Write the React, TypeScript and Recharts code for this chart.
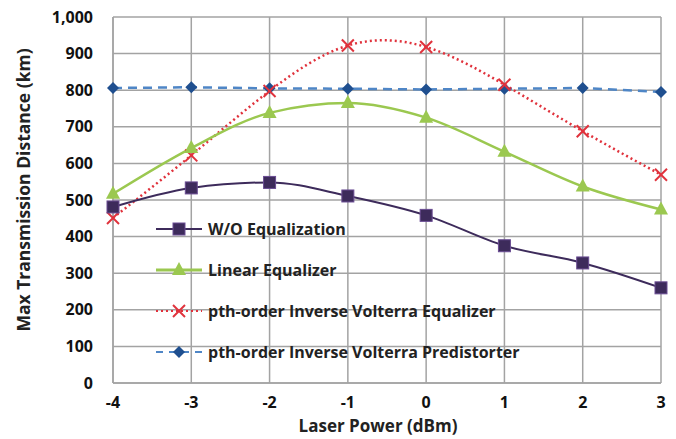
import { LineChart, Line, XAxis, YAxis, CartesianGrid, Legend } from "recharts";

const powers = [-4, -3, -2, -1, 0, 1, 2, 3];
const woEqualization = [481, 533, 548, 511, 458, 375, 328, 260];
const linearEqualizer = [517, 642, 738, 765, 725, 632, 537, 474];
const volterraEqualizer = [451, 622, 798, 922, 918, 815, 688, 569];
const volterraPredistorter = [806, 808, 805, 804, 802, 804, 806, 795];
const yTicks = [0, 100, 200, 300, 400, 500, 600, 700, 800, 900, 1000];

const seriesNames = [
  "W/O Equalization",
  "Linear Equalizer",
  "pth-order Inverse Volterra Equalizer",
  "pth-order Inverse Volterra Predistorter",
];

const data = powers.map((p, i) => ({
  power: p,
  wo: woEqualization[i],
  linear: linearEqualizer[i],
  volterra: volterraEqualizer[i],
  predistorter: volterraPredistorter[i],
}));

const FONT = "'Open Sans', sans-serif";
const PURPLE = "#3d2b5b";
const GREEN = "#9bc850";
const RED = "#e0323c";
const BLUE_LINE = "#4f86c6";
const BLUE_DOT = "#1f4f8f";

const SquareDot = (props: any) => {
  const { cx, cy } = props;
  if (cx == null || cy == null) return null;
  return <rect x={cx - 6} y={cy - 6} width={12} height={12} fill={PURPLE} stroke="#6a4c93" strokeWidth={1} />;
};

const TriangleDot = (props: any) => {
  const { cx, cy } = props;
  if (cx == null || cy == null) return null;
  return <polygon points={`${cx},${cy - 8} ${cx + 7},${cy + 5} ${cx - 7},${cy + 5}`} fill={GREEN} />;
};

const CrossDot = (props: any) => {
  const { cx, cy } = props;
  if (cx == null || cy == null) return null;
  return (
    <g stroke={RED} strokeWidth={2}>
      <line x1={cx - 6} y1={cy - 6} x2={cx + 6} y2={cy + 6} />
      <line x1={cx - 6} y1={cy + 6} x2={cx + 6} y2={cy - 6} />
    </g>
  );
};

const DiamondDot = (props: any) => {
  const { cx, cy } = props;
  if (cx == null || cy == null) return null;
  return <polygon points={`${cx},${cy - 6} ${cx + 6},${cy} ${cx},${cy + 6} ${cx - 6},${cy}`} fill={BLUE_DOT} />;
};

const legendIcons = [
  <g key="a">
    <line x1={0} y1={8} x2={46} y2={8} stroke={PURPLE} strokeWidth={2} />
    <SquareDot cx={23} cy={8} />
  </g>,
  <g key="b">
    <line x1={0} y1={8} x2={46} y2={8} stroke={GREEN} strokeWidth={3} />
    <TriangleDot cx={23} cy={8} />
  </g>,
  <g key="c">
    <line x1={0} y1={8} x2={46} y2={8} stroke={RED} strokeWidth={2} strokeDasharray="2 3" />
    <CrossDot cx={23} cy={8} />
  </g>,
  <g key="d">
    <line x1={0} y1={8} x2={46} y2={8} stroke={BLUE_LINE} strokeWidth={2} strokeDasharray="7 6" />
    <DiamondDot cx={23} cy={8} />
  </g>,
];

const renderLegend = () => (
  <div style={{ fontFamily: FONT, fontWeight: 700, fontSize: 16, color: "#222" }}>
    {seriesNames.map((name, i) => (
      <div key={name} style={{ display: "flex", alignItems: "center", height: 41 }}>
        <svg width={48} height={16} style={{ marginRight: 4 }}>
          {legendIcons[i]}
        </svg>
        <span>{name}</span>
      </div>
    ))}
  </div>
);

export default function App() {
  return (
    <div>
      <style>{`body{margin:0;background:#fff}`}</style>
      <LineChart
        width={676}
        height={439}
        data={data}
        margin={{ top: 17, right: 15, bottom: 0, left: 0 }}
      >
        <CartesianGrid stroke="#a3a3a3" strokeWidth={1.5} />
        <XAxis
          dataKey="power"
          type="number"
          domain={[-4, 3]}
          ticks={powers}
          interval={0}
          height={56}
          axisLine={{ stroke: "#a3a3a3", strokeWidth: 1.5 }}
          tickLine={false}
          tickMargin={8}
          tick={{ fontFamily: FONT, fontWeight: 700, fontSize: 16, fill: "#111" }}
          label={{
            value: "Laser Power (dBm)",
            position: "insideBottom",
            offset: 7,
            dx: -9,
            style: { fontFamily: FONT, fontWeight: 700, fontSize: 17, fill: "#222" },
          }}
        />
        <YAxis
          type="number"
          domain={[0, 1000]}
          ticks={yTicks}
          interval={0}
          width={113}
          axisLine={{ stroke: "#a3a3a3", strokeWidth: 1.5 }}
          tickLine={false}
          tickMargin={14}
          tickFormatter={(v: number) => v.toLocaleString("en-US")}
          tick={{ fontFamily: FONT, fontWeight: 700, fontSize: 16, fill: "#111" }}
          label={{
            value: "Max Transmission Distance (km)",
            angle: -90,
            position: "insideLeft",
            offset: 24,
            dy: -10,
            style: { fontFamily: FONT, fontWeight: 700, fontSize: 17.5, fill: "#222", textAnchor: "middle" },
          }}
        />
        <Legend
          content={renderLegend}
          layout="vertical"
          align="center"
          verticalAlign="middle"
          wrapperStyle={{ position: "absolute", left: 156, top: 208, width: 460 }}
        />
        <Line
          dataKey="predistorter"
          name={seriesNames[3]}
          type="linear"
          stroke={BLUE_LINE}
          strokeWidth={2.5}
          strokeDasharray="9 6"
          dot={<DiamondDot />}
          isAnimationActive={false}
        />
        <Line
          dataKey="volterra"
          name={seriesNames[2]}
          type="natural"
          stroke={RED}
          strokeWidth={2.5}
          strokeDasharray="2 3"
          dot={<CrossDot />}
          isAnimationActive={false}
        />
        <Line
          dataKey="linear"
          name={seriesNames[1]}
          type="monotone"
          stroke={GREEN}
          strokeWidth={2.5}
          dot={<TriangleDot />}
          isAnimationActive={false}
        />
        <Line
          dataKey="wo"
          name={seriesNames[0]}
          type="monotone"
          stroke={PURPLE}
          strokeWidth={2}
          dot={<SquareDot />}
          isAnimationActive={false}
        />
      </LineChart>
    </div>
  );
}
